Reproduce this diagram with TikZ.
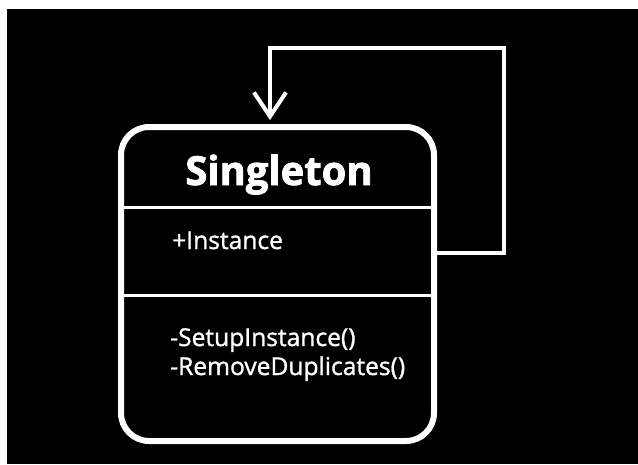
\documentclass[tikz,border=0pt]{standalone}
\usepackage{fontspec}
\setmainfont{Open Sans}
\newfontfamily\namefont[FakeBold=2]{Open Sans Bold}
\newfontfamily\memberfont[FakeBold=1.2]{Open Sans}
\usepackage{tikz}
\usetikzlibrary{arrows.meta,positioning,calc}
\tikzstyle{classbox} = [draw=white,line width=6pt,rounded corners=28pt,minimum width=313pt,minimum height=314pt,inner sep=0pt]
\tikzstyle{classname} = [text=white,font=\namefont\fontsize{40}{44}\selectfont,anchor=base]
\tikzstyle{member} = [text=white,font=\memberfont\fontsize{24.6}{27}\selectfont,anchor=base west,inner sep=0pt]
\tikzstyle{divider} = [draw=white,line width=3pt]
\tikzstyle{selfloop} = [draw=white,line width=4pt,arrows={-Straight Barb[length=24pt,width=32pt]},shorten >=4pt]

\begin{document}
\begin{tikzpicture}[x=1pt,y=-1pt]
      \fill[white] (0,0) rectangle (638,464);
      \fill[black] (7,9) rectangle (638,464);
      \useasboundingbox (0,0) rectangle (638,464);

      \node (single)[classbox]  at (277.5,284) {};
      \node (title)[classname]  at (279,185) {Singleton};
      \node (attr)[member]      at (172,249) {+Instance};
      \node (setup)[member]     at (170,346) {-SetupInstance()};
      \node (remove)[member]    at (170,375) {-RemoveDuplicates()};

      \draw[divider] (single.west |- 0,207) -- (single.east |- 0,207);
      \draw[divider] (single.west |- 0,295) -- (single.east |- 0,295);

      \coordinate (turn) at (504,48);
      \draw[selfloop] (single.east |- 0,253) -| (turn) -| (single.north -| 270,0);
\end{tikzpicture}
\end{document}
